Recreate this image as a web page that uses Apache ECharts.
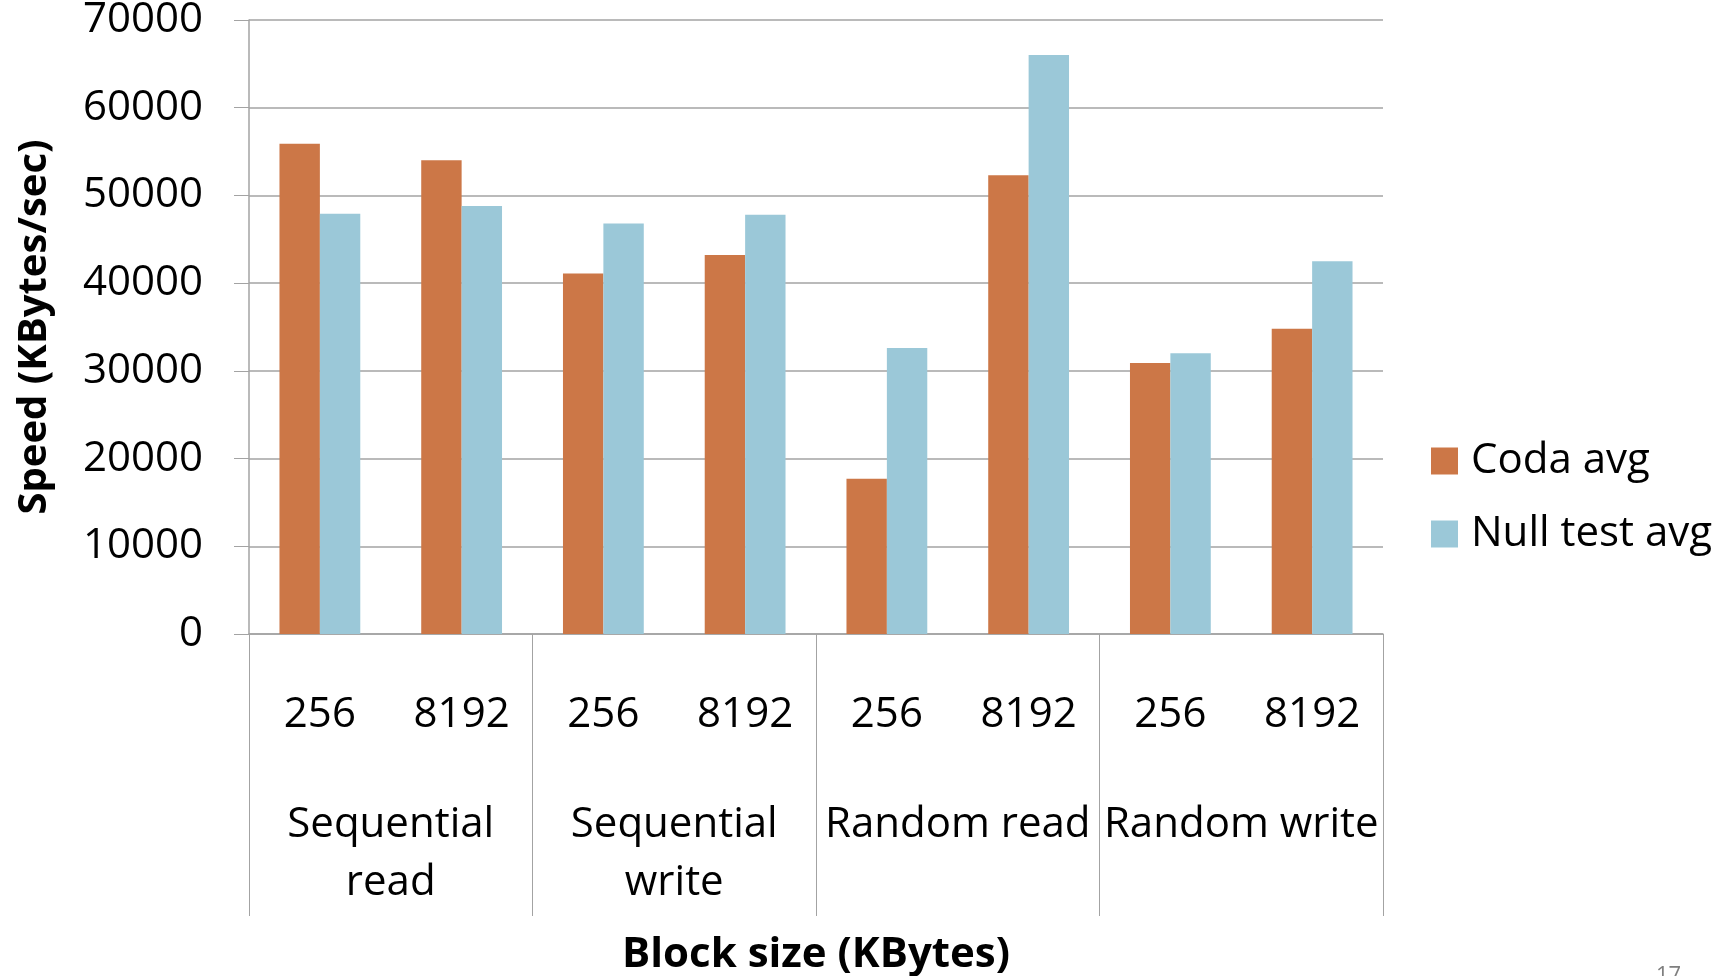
<!DOCTYPE html>
<html>
<head>
<meta charset="utf-8">
<script src="https://cdn.jsdelivr.net/npm/echarts@6/dist/echarts.min.js"></script>
<style>
  html, body { margin: 0; padding: 0; background: #fff; }
  #chart { width: 1724px; height: 976px; }
</style>
</head>
<body>
<div id="chart"></div>
<script>
// Block sizes tested for each workload, and the workloads themselves
const blockSizes = ['256', '8192', '256', '8192', '256', '8192', '256', '8192'];
const workloads = ['Sequential\nread', 'Sequential\nwrite', 'Random read', 'Random write'];
const seriesNames = ['Coda avg', 'Null test avg'];

// Average throughput in KBytes/sec
const codaAvg = [55900, 54000, 41100, 43200, 17700, 52300, 30900, 34800];
const nullTestAvg = [47900, 48800, 46800, 47800, 32600, 66000, 32000, 42500];

const yTicks = { min: 0, max: 70000, interval: 10000 };

const FONT = '"Open Sans", Lato, sans-serif';
const GRAY = '#A3A3A3';

const chart = echarts.init(document.getElementById('chart'), null, { renderer: 'canvas' });

chart.setOption({
  backgroundColor: '#ffffff',
  animation: false,
  color: ['#CC7747', '#9BC8D8'],
  grid: { left: 249, right: 341, top: 20, bottom: 342, containLabel: false, outerBoundsMode: 'none' },
  legend: {
    orient: 'vertical',
    left: 1426,
    top: 435,
    icon: 'rect',
    itemWidth: 27,
    itemHeight: 27,
    itemGap: 31,
    data: seriesNames,
    textStyle: { fontFamily: FONT, fontSize: 42, color: '#000', lineHeight: 40, padding: [0, 0, 0, 8] }
  },
  xAxis: [
    {
      type: 'category',
      data: blockSizes,
      position: 'bottom',
      axisLine: { show: true, lineStyle: { color: GRAY, width: 1.5 } },
      axisTick: { show: false },
      axisLabel: { interval: 0, margin: 61, fontFamily: FONT, fontSize: 42, color: '#000', lineHeight: 40 }
    },
    {
      type: 'category',
      data: workloads,
      position: 'bottom',
      axisLine: { show: false },
      axisTick: { show: true, length: 282, lineStyle: { color: GRAY, width: 1 } },
      axisLabel: { interval: 0, margin: 162, fontFamily: FONT, fontSize: 42, color: '#000', lineHeight: 58 },
      name: 'Block size (KBytes)',
      nameLocation: 'middle',
      nameGap: 300,
      nameTextStyle: { fontFamily: FONT, fontSize: 42, fontWeight: 'bold', color: '#000' }
    }
  ],
  yAxis: {
    type: 'value',
    min: yTicks.min,
    max: yTicks.max,
    interval: yTicks.interval,
    axisLine: { show: true, lineStyle: { color: GRAY, width: 1.5 } },
    axisTick: { show: true, length: 15, lineStyle: { color: GRAY } },
    splitLine: { show: true, lineStyle: { color: GRAY, width: 1.5 } },
    axisLabel: {
      margin: 46, fontFamily: FONT, fontSize: 42, color: '#000',
      padding: [9, 0, 0, 0],
      formatter: (v) => String(v)
    },
    name: 'Speed (KBytes/sec)',
    nameLocation: 'middle',
    nameGap: 194,
    nameTextStyle: { fontFamily: FONT, fontSize: 40, fontWeight: 'bold', color: '#000' }
  },
  series: [
    { name: seriesNames[0], type: 'bar', data: codaAvg, barGap: '0%', barCategoryGap: '43%' },
    { name: seriesNames[1], type: 'bar', data: nullTestAvg, barGap: '0%', barCategoryGap: '43%' }
  ],
  graphic: [
    { type: 'text', left: 1656, top: 965, style: { text: '17', fontFamily: FONT, fontSize: 22, fill: '#7F7F7F' } }
  ]
});
</script>
</body>
</html>
